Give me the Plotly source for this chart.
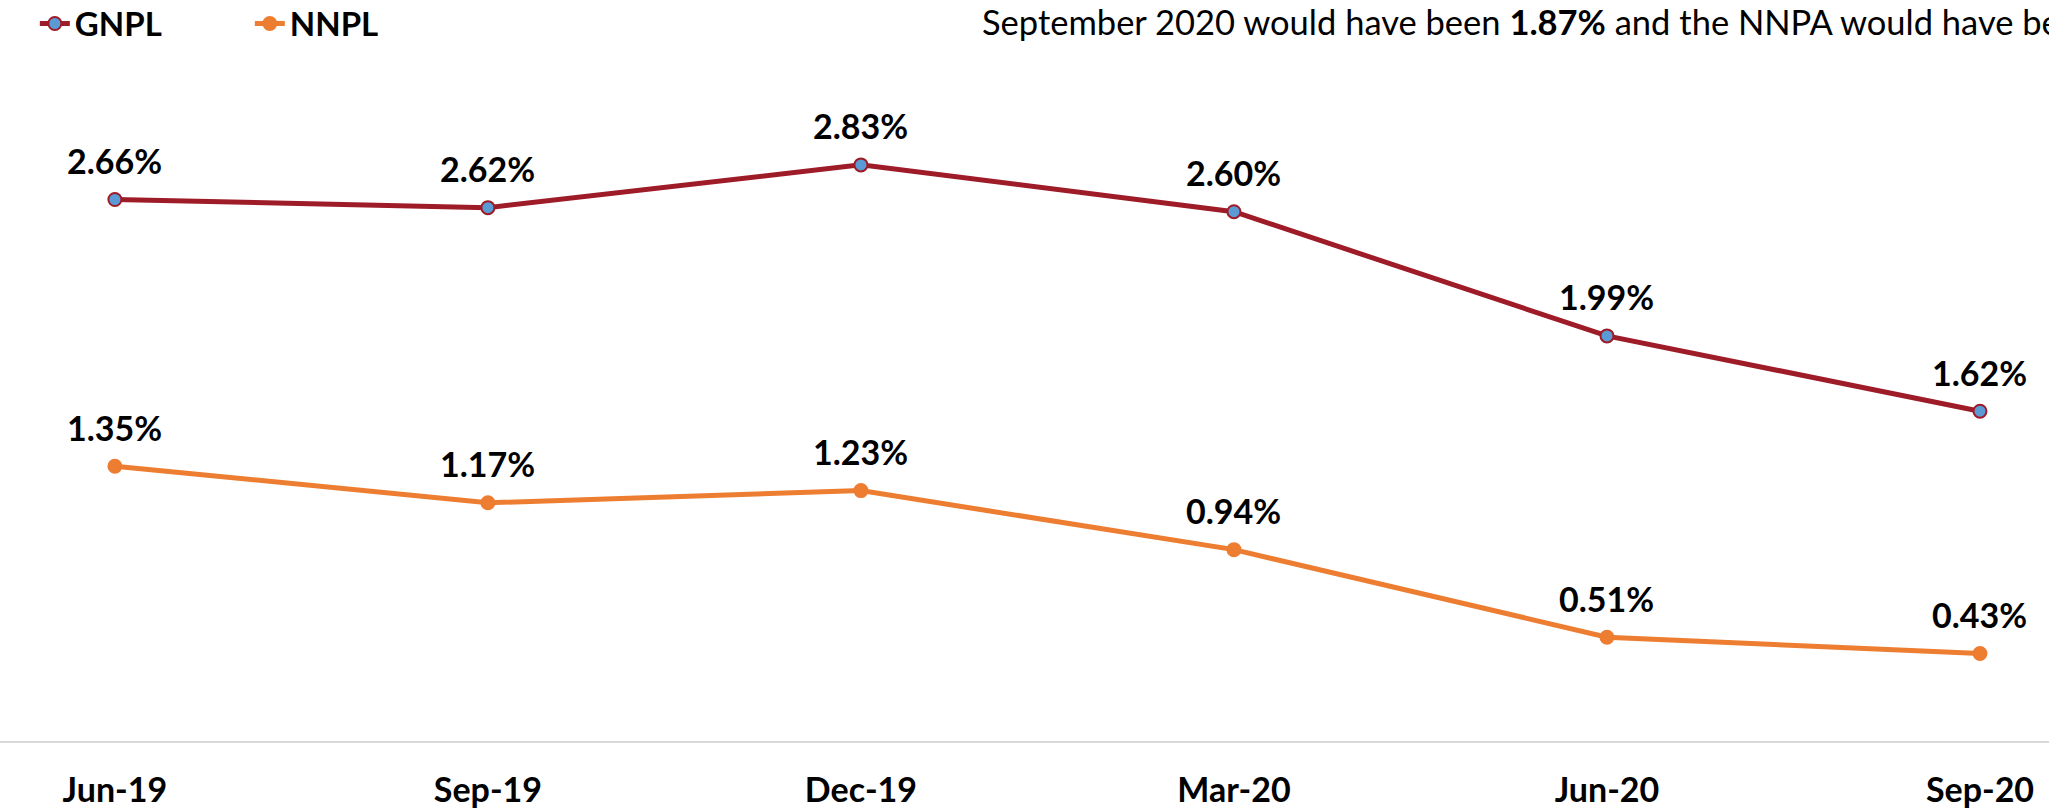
import plotly.graph_objects as go

quarters = ["Jun-19", "Sep-19", "Dec-19", "Mar-20", "Jun-20", "Sep-20"]
gnpl = [2.66, 2.62, 2.83, 2.60, 1.99, 1.62]
nnpl = [1.35, 1.17, 1.23, 0.94, 0.51, 0.43]

note_text = "September 2020 would have been <b>1.87%</b> and the NNPA would have be"

RED = "#9E1B28"
BLUE = "#5B9BD5"
ORANGE = "#ED7D31"
FONT = "Lato"

fig = go.Figure()
fig.add_trace(go.Scatter(
    x=quarters, y=gnpl, name="GNPL", mode="lines+markers",
    line=dict(color=RED, width=5),
    marker=dict(size=13, color=BLUE, line=dict(color=RED, width=2)),
))
fig.add_trace(go.Scatter(
    x=quarters, y=nnpl, name="NNPL", mode="lines+markers",
    line=dict(color=ORANGE, width=5),
    marker=dict(size=13, color=ORANGE, line=dict(color=ORANGE, width=2)),
))

annotations = []
for series in (gnpl, nnpl):
    for q, v in zip(quarters, series):
        annotations.append(dict(
            x=q, y=v, xref="x", yref="y", text=f"<b>{v:.2f}%</b>",
            showarrow=False, yshift=39, xanchor="center", yanchor="middle",
            font=dict(family=FONT, size=34, color="#000000"),
        ))
annotations.append(dict(
    x=980 / 2049, y=1 - 21 / 741, xref="paper", yref="paper",
    text=note_text, showarrow=False, xanchor="left", yanchor="middle",
    font=dict(family=FONT, size=34.5, color="#000000"),
))

fig.update_layout(
    width=2049, height=810,
    margin=dict(l=0, r=0, t=0, b=69, autoexpand=False),
    paper_bgcolor="white", plot_bgcolor="white",
    font=dict(family=FONT, color="#000000"),
    showlegend=True,
    legend=dict(
        orientation="h", x=0.017, y=1.006, xanchor="left", yanchor="top",
        font=dict(family=FONT, size=33, color="#000000", weight="bold"),
        entrywidth=170, entrywidthmode="pixels",
        bgcolor="rgba(0,0,0,0)", itemclick=False,
    ),
    annotations=annotations,
    xaxis=dict(
        type="category", range=[-0.308, 5.185], automargin=False,
        showgrid=False, zeroline=False,
        showline=True, linecolor="#D9D9D9", linewidth=2,
        ticks="", ticklabelstandoff=18,
        tickfont=dict(family=FONT, size=34, color="#000000", weight="bold"),
    ),
    yaxis=dict(
        range=[0, 3.64], showgrid=False, zeroline=False, automargin=False,
        showline=False, showticklabels=False, ticks="",
    ),
)

fig.write_html(
    "out.html",
    config=dict(displayModeBar=False),
    post_script="document.body.style.margin='0';document.body.style.overflow='hidden';",
)
